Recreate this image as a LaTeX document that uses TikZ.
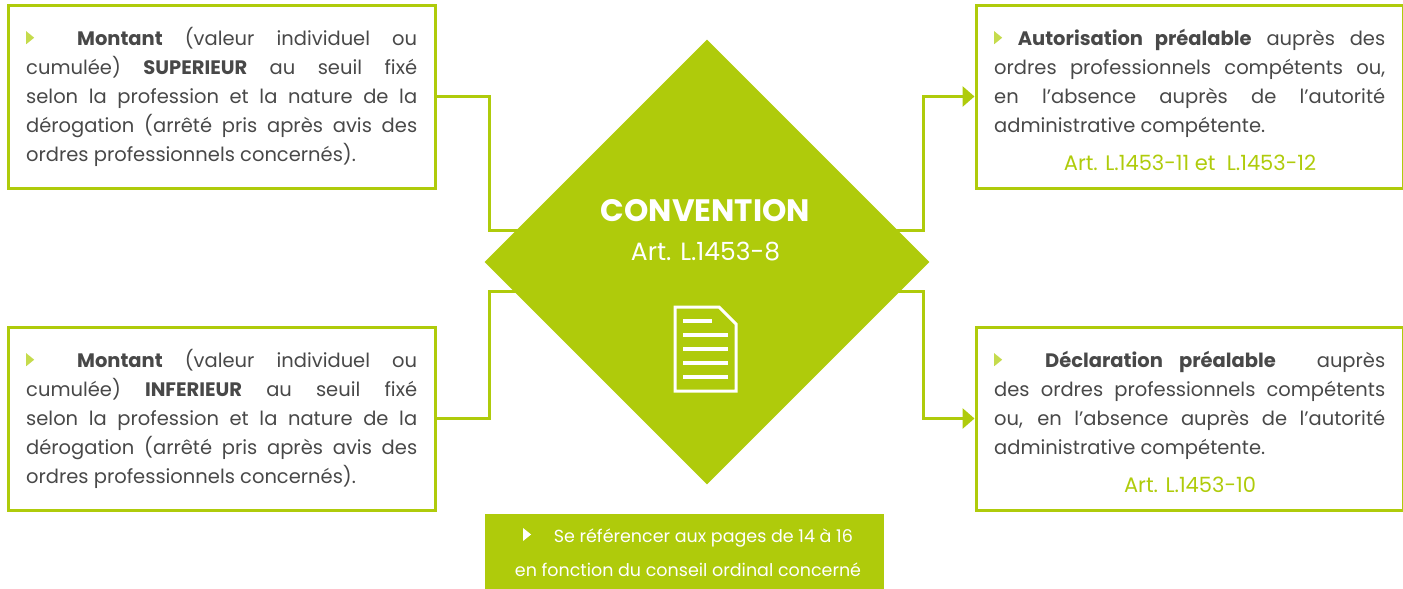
\documentclass[tikz,border=0pt]{standalone}
\usepackage{fontspec}
\setmainfont{Poppins}
\usetikzlibrary{arrows.meta,shapes.geometric}
\definecolor{lime}{HTML}{AFCB0B}
\definecolor{limelight}{HTML}{C5DB4C}
\definecolor{txtgray}{HTML}{484848}
\newcommand{\bul}[1]{\tikz[baseline=0pt]\fill[#1](0pt,1pt)--(8pt,7.5pt)--(0pt,14pt)--cycle;}
\newcommand{\nohyph}{\hyphenpenalty=10000\relax\exhyphenpenalty=10000\relax}
\tikzset{
  box/.style={draw=lime, line width=3pt, minimum width=427pt, minimum height=183pt, inner sep=0pt},
  txt/.style={anchor=north west, inner sep=0pt, text width=391pt, align=justify, text=txtgray,
    font=\fontsize{19.5}{29}\selectfont\nohyph},
  art/.style={anchor=base, inner sep=0pt, text=lime, font=\fontsize{21}{29}\selectfont},
  conn/.style={draw=lime, line width=3pt},
  arr/.style={conn, -{Triangle[length=12pt,width=20pt]}},
}
\begin{document}
\begin{tikzpicture}[x=1pt,y=-1pt]
\useasboundingbox (0,0) rectangle (1403,589);
% boxes
\node[box] (tl) at (221.5,96.5) {};
\node[box] (bl) at (221.5,418.5) {};
\node[box] (tr) at (1189.5,96.5) {};
\node[box] (br) at (1189.5,418.5) {};
% connectors
\coordinate (ctl) at (489,230);
\coordinate (cbl) at (489,291);
\coordinate (ctr) at (923,230);
\coordinate (cbr) at (923,291);
\node[diamond, inner sep=0pt, minimum width=1pt] (dc) at (707,262) {};
\draw[conn] (tl.east) -| (ctl) -- (ctl -| dc.center);
\draw[conn] (bl.east) -| (cbl) -- (cbl -| dc.center);
\draw[arr] (ctr -| dc.center) -- (ctr) |- (tr.west);
\draw[arr] (cbr -| dc.center) -- (cbr) |- (br.west);
% diamond
\node[diamond, fill=lime, minimum width=445pt, minimum height=445pt, inner sep=0pt, aspect=1] (dia) at (707,262) {};
\node[anchor=base, inner sep=0pt, text=white, font=\fontsize{31}{34}\selectfont\bfseries] (ttl) at (705.5,221) {CONVENTION};
\node[anchor=base, inner sep=0pt, text=white, font=\fontsize{25}{28}\selectfont] (sub) at (705.5,260) {Art. L.1453-8};
% document icon
\draw[white, line width=3pt, line join=miter] (675,307) -- (719,307) -- (736,324) -- (736,391) -- (675,391) -- cycle;
\foreach \yy/\xe in {321/712, 335/728, 349/728, 363/728, 377/728}
  \draw[white, line width=3.5pt] (683,\yy) -- (\xe,\yy);
% texts
\node[txt] (tlt) at (26,24.7) {\strut\bul{limelight}\hspace{2.2em}\textbf{Montant} (valeur individuel ou\linebreak cumulée) \textbf{SUPERIEUR} au seuil fixé\linebreak selon la profession et la nature de la\linebreak dérogation (arrêté pris après avis des\linebreak ordres professionnels concernés).};
\node[txt] (blt) at (26,346.7) {\strut\bul{limelight}\hspace{2.2em}\textbf{Montant} (valeur individuel ou\linebreak cumulée) \textbf{INFERIEUR} au seuil fixé\linebreak selon la profession et la nature de la\linebreak dérogation (arrêté pris après avis des\linebreak ordres professionnels concernés).};
\node[txt] (trt) at (994,24.7) {\strut\bul{limelight}\hspace{0.8em}\textbf{Autorisation préalable} auprès des\linebreak ordres professionnels compétents ou,\linebreak en l’absence auprès de l’autorité\linebreak administrative compétente.};
\node[art] (tra) at (1190,170) {Art. L.1453-11 et~ L.1453-12};
\node[txt] (brt) at (994,346.7) {\strut\bul{limelight}\hspace{2.2em}\textbf{Déclaration préalable}~ auprès\linebreak des ordres professionnels compétents\linebreak ou, en l’absence auprès de l’autorité\linebreak administrative compétente.};
\node[art] (bra) at (1190,492) {Art. L.1453-10};
% bottom note
\node[fill=lime, minimum width=399pt, minimum height=80pt, inner sep=0pt, anchor=north west] (note) at (485,514) {};
\node[anchor=base, inner sep=0pt, text=white, font=\fontsize{17.5}{20}\selectfont] (n1) at (688,542) {\bul{white}\hspace{1.3em}Se référencer aux pages de 14 à 16};
\node[anchor=base, inner sep=0pt, text=white, font=\fontsize{17.5}{20}\selectfont] (n2) at (688,576) {en fonction du conseil ordinal concerné};
\end{tikzpicture}
\end{document}
